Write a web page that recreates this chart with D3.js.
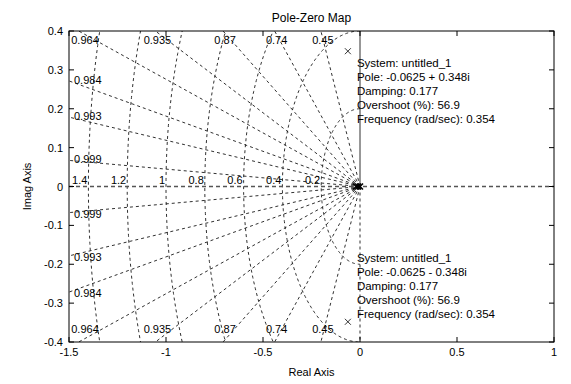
<!DOCTYPE html>
<html><head><meta charset="utf-8">
<script src="https://cdn.jsdelivr.net/npm/d3@7/dist/d3.min.js"></script>
<style>body{margin:0;background:#fff}text{font-family:"Liberation Sans",Arial,sans-serif;fill:#000}</style>
</head><body><svg id="c" width="571" height="384"></svg>
<script>
const xTicks=[-1.5,-1,-0.5,0,0.5,1];
const yTicks=[-0.4,-0.3,-0.2,-0.1,0,0.1,0.2,0.3,0.4];
const dampTop=[0.964,0.935,0.87,0.74,0.45];
const dampLeft=[0.999,0.993,0.984];
const dampAll=[0.999,0.993,0.984,0.964,0.935,0.87,0.74,0.45,0];
const freqs=[0.2,0.4,0.6,0.8,1,1.2,1.4];
const poleRe=[-0.0625,-0.0625,-0.02,-0.01,0];
const poleIm=[0.348,-0.348,0,0,0];
const tipUpper=["System: untitled_1","Pole: -0.0625 + 0.348i","Damping: 0.177","Overshoot (%): 56.9","Frequency (rad/sec): 0.354"];
const tipLower=["System: untitled_1","Pole: -0.0625 - 0.348i","Damping: 0.177","Overshoot (%): 56.9","Frequency (rad/sec): 0.354"];

const L=69,R=554,T=31,B=342;
const svg=d3.select("#c");
const x=d3.scaleLinear().domain([-1.5,1]).range([L,R]);
const y=d3.scaleLinear().domain([-0.4,0.4]).range([B,T]);
svg.append("clipPath").attr("id","clip").append("rect").attr("x",L).attr("y",T).attr("width",R-L).attr("height",B-T);
const g=svg.append("g").attr("clip-path","url(#clip)");
const dash="3,3", gc="#1a1a1a";
const line=d3.line().x(d=>x(d[0])).y(d=>y(d[1]));
// frequency circles
freqs.forEach(w=>{
  const pts=d3.range(0,181).map(i=>{const a=Math.PI/2+Math.PI*i/180;return [w*Math.cos(a),w*Math.sin(a)];});
  g.append("path").attr("d",line(pts)).attr("fill","none").attr("stroke",gc).attr("stroke-width",0.9).attr("stroke-dasharray",dash);
});
// damping rays
dampAll.forEach(z=>{
  const s=Math.sqrt(1-z*z);
  [1,-1].forEach(sg=>{
    g.append("path").attr("d",line([[0,0],[-z*5,sg*s*5]])).attr("fill","none").attr("stroke",gc).attr("stroke-width",0.9)
      .attr("stroke-dasharray",(z===0&&sg===1)?null:dash);
  });
});
// real axis line
g.append("path").attr("d",line([[-1.5,0],[1,0]])).attr("stroke","#555").attr("stroke-width",1.6).attr("stroke-dasharray","4,3");
// frequency labels
freqs.forEach(w=>{
  svg.append("text").attr("x",x(-w)-1).attr("y",y(0)-3).attr("text-anchor","end").attr("font-size",11).text(String(w));
});
// damping labels top/bottom
dampTop.forEach(z=>{
  const t=Math.sqrt(1-z*z)/z;
  const xi=Math.max(x(-0.4/t)+2,L+16);
  svg.append("text").attr("x",xi).attr("y",T+13).attr("text-anchor","middle").attr("font-size",11).text(String(z));
  svg.append("text").attr("x",xi).attr("y",B-9).attr("text-anchor","middle").attr("font-size",11).text(String(z));
});
dampLeft.forEach(z=>{
  const t=Math.sqrt(1-z*z)/z;
  const yi=1.5*t;
  svg.append("text").attr("x",L+5).attr("y",y(yi)+3).attr("font-size",11).text(String(z));
  svg.append("text").attr("x",L+5).attr("y",y(-yi)+5).attr("font-size",11).text(String(z));
});
// poles
poleRe.forEach((r,i)=>{
  const px=x(r),py=y(poleIm[i]),s=3;
  svg.append("path").attr("d",`M${px-s},${py-s}L${px+s},${py+s}M${px-s},${py+s}L${px+s},${py-s}`).attr("stroke","#000").attr("stroke-width",i<2?0.8:1.6);
});
// datatips
[[tipUpper,0],[tipLower,1]].forEach(([lines,k])=>{
  const px=x(poleRe[k]),py=y(poleIm[k]);
  const y0=k===0?py+16:py-60;
  lines.forEach((s,j)=>svg.append("text").attr("x",px+9).attr("y",y0+j*14).attr("font-size",11.5).text(s));
});
// box
svg.append("rect").attr("x",L).attr("y",T).attr("width",R-L).attr("height",B-T).attr("fill","none").attr("stroke","#000");
// ticks
const tl=5;
xTicks.forEach(v=>{
  svg.append("line").attr("x1",x(v)).attr("x2",x(v)).attr("y1",B).attr("y2",B-tl).attr("stroke","#000");
  svg.append("line").attr("x1",x(v)).attr("x2",x(v)).attr("y1",T).attr("y2",T+tl).attr("stroke","#000");
  svg.append("text").attr("x",x(v)).attr("y",B+14).attr("text-anchor","middle").attr("font-size",11).text(String(v));
});
yTicks.forEach(v=>{
  svg.append("line").attr("x1",L).attr("x2",L+tl).attr("y1",y(v)).attr("y2",y(v)).attr("stroke","#000");
  svg.append("line").attr("x1",R).attr("x2",R-tl).attr("y1",y(v)).attr("y2",y(v)).attr("stroke","#000");
  svg.append("text").attr("x",L-6).attr("y",y(v)+4).attr("text-anchor","end").attr("font-size",11).text(String(v));
});
svg.append("text").attr("x",(L+R)/2).attr("y",22).attr("text-anchor","middle").attr("font-size",12).text("Pole-Zero Map");
svg.append("text").attr("x",(L+R)/2).attr("y",376).attr("text-anchor","middle").attr("font-size",11).text("Real Axis");
svg.append("text").attr("transform",`translate(31,${(T+B)/2}) rotate(-90)`).attr("text-anchor","middle").attr("font-size",11).text("Imag Axis");
</script></body></html>
